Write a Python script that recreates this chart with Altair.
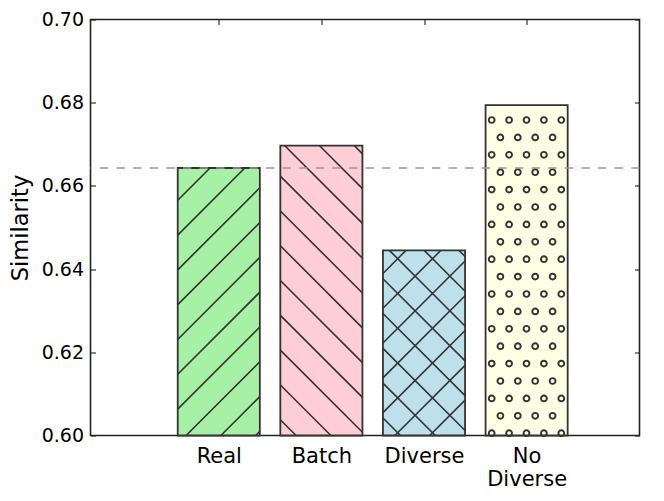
import math
import altair as alt
import pandas as pd

# ---------------- data ----------------
categories = ["Real", "Batch", "Diverse", "No Diverse"]
label_lines = [["Real"], ["Batch"], ["Diverse"], ["No", "Diverse"]]
values = [0.6643, 0.6697, 0.6445, 0.6794]
fill_colors = ["#a6f1a6", "#ffcdd5", "#bde0eb", "#ffffe6"]
hatch_kinds = ["/", "\\", "x", "o"]
reference_value = values[0]
y_tick_values = [0.60, 0.62, 0.64, 0.66, 0.68, 0.70]
baseline = 0.60

# ---------------- layout / style ----------------
W, H = 549, 416
X_DOMAIN = [-1.25, 4.1]
Y_DOMAIN = [0.60, 0.70]
BAR_HALF = 0.4
EDGE = "#333333"
FONT = "DejaVu Sans"
HATCH_STEP = 34.8          # px between hatch lines
PHASE_FWD = 24.4           # phase of "/" lines (x+y=c), px
PHASE_BWD = -1.6           # phase of "\" lines (x-y=c), px
DOT_STEP = HATCH_STEP / 2  # px between circle centres
DOT_ROW0 = 100.5
DOT_COL0 = 401.2
DOT_COL1 = 409.9


def px_x(x):
    return (x - X_DOMAIN[0]) / (X_DOMAIN[1] - X_DOMAIN[0]) * W


def px_y(v):
    return (Y_DOMAIN[1] - v) / (Y_DOMAIN[1] - Y_DOMAIN[0]) * H


def dx(p):
    return X_DOMAIN[0] + p / W * (X_DOMAIN[1] - X_DOMAIN[0])


def dy(p):
    return Y_DOMAIN[1] - p / H * (Y_DOMAIN[1] - Y_DOMAIN[0])


bars = pd.DataFrame({
    "category": categories,
    "pos": list(range(len(categories))),
    "lo": [i - BAR_HALF for i in range(len(categories))],
    "hi": [i + BAR_HALF for i in range(len(categories))],
    "value": values,
    "base": [baseline] * len(categories),
    "fill": fill_colors,
})

segs = []
dots = []
for i, (v, kind) in enumerate(zip(values, hatch_kinds)):
    x0, x1 = px_x(i - BAR_HALF), px_x(i + BAR_HALF)
    yt, yb = px_y(v), px_y(baseline)
    fams = []
    if kind in ("/", "x"):
        fams.append("fwd")
    if kind in ("\\", "x"):
        fams.append("bwd")
    for fam in fams:
        if fam == "fwd":
            cmin, cmax, ph = x0 + yt, x1 + yb, PHASE_FWD
        else:
            cmin, cmax, ph = x0 - yb, x1 - yt, PHASE_BWD
        k = math.floor((cmin - ph) / HATCH_STEP)
        while ph + k * HATCH_STEP <= cmax:
            c = ph + k * HATCH_STEP
            k += 1
            if fam == "fwd":
                lo, hi = max(x0, c - yb), min(x1, c - yt)
                if hi - lo > 0.5:
                    segs.append({"x": dx(lo), "y": dy(c - lo), "x2": dx(hi), "y2": dy(c - hi)})
            else:
                lo, hi = max(x0, yt + c), min(x1, yb + c)
                if hi - lo > 0.5:
                    segs.append({"x": dx(lo), "y": dy(lo - c), "x2": dx(hi), "y2": dy(hi - c)})
    if kind == "o":
        r = math.floor((yt - DOT_ROW0) / DOT_STEP) - 1
        while DOT_ROW0 + r * DOT_STEP < yb:
            yy = DOT_ROW0 + r * DOT_STEP
            c0 = DOT_COL0 if r % 2 == 0 else DOT_COL1
            r += 1
            if yy <= yt + 1:
                continue
            q = math.floor((x0 - c0) / DOT_STEP) - 1
            while c0 + q * DOT_STEP < x1 - 1:
                xx = c0 + q * DOT_STEP
                q += 1
                if xx > x0 + 1:
                    dots.append({"x": dx(xx), "y": dy(yy)})

segs = pd.DataFrame(segs)
dots = pd.DataFrame(dots)

xs = alt.Scale(domain=X_DOMAIN, nice=False, zero=False)
ys = alt.Scale(domain=Y_DOMAIN, nice=False, zero=False)

label_expr = "[" + ",".join("[" + ",".join("'%s'" % t for t in ls) + "]" for ls in label_lines) + "][round(datum.value)]"

common_axis = dict(domain=False, grid=False, ticks=True, tickSize=5, tickWidth=1.1,
                   tickColor="#222222", offset=-5, labelFont=FONT,
                   labelColor="black", titleFont=FONT, titleColor="black")

bottom_axis = alt.Axis(orient="bottom", values=list(range(len(categories))),
                       labelExpr=label_expr, labelPadding=10, labelLineHeight=23,
                       labelFontSize=21, labelBaseline="top", title=None, **common_axis)
left_axis = alt.Axis(orient="left", values=y_tick_values, format=".2f",
                     labelPadding=7, labelFontSize=19, title="Similarity", titleFontSize=22.5,
                     titleFontWeight="normal", titleBaseline="alphabetic",
                     titleX=-68.5, titleAnchor="middle", **common_axis)
top_axis = alt.Axis(orient="top", values=list(range(len(categories))), labels=False,
                    title=None, **common_axis)
right_axis = alt.Axis(orient="right", values=y_tick_values, labels=False,
                      title=None, **common_axis)

base = alt.Chart(bars)

fill_layer = base.mark_rect(strokeWidth=0).encode(
    x=alt.X("lo:Q", scale=xs, axis=bottom_axis),
    x2="hi:Q",
    y=alt.Y("value:Q", scale=ys, axis=left_axis),
    y2="base:Q",
    fill=alt.Fill("fill:N", scale=None),
)

hatch_layer = alt.Chart(segs).mark_rule(color=EDGE, strokeWidth=1.6).encode(
    x=alt.X("x:Q", scale=xs, axis=None),
    x2="x2:Q",
    y=alt.Y("y:Q", scale=ys, axis=None),
    y2="y2:Q",
)

dot_layer = alt.Chart(dots).mark_point(shape="circle", filled=False, size=34,
                                       strokeWidth=1.9, color=EDGE, opacity=1).encode(
    x=alt.X("x:Q", scale=xs, axis=None),
    y=alt.Y("y:Q", scale=ys, axis=None),
)

outline_layer = base.mark_rect(fillOpacity=0, stroke=EDGE, strokeWidth=1.8).encode(
    x=alt.X("lo:Q", scale=xs, axis=None),
    x2="hi:Q",
    y=alt.Y("value:Q", scale=ys, axis=None),
    y2="base:Q",
)

ref_layer = alt.Chart(pd.DataFrame({"v": [reference_value]})).mark_rule(
    color="#999999", strokeWidth=1.4, strokeDash=[8.3, 8.3]
).encode(y=alt.Y("v:Q", scale=ys, axis=None))

frame_layer = base.mark_point(opacity=0).encode(
    x=alt.X("pos:Q", scale=xs, axis=top_axis),
    y=alt.Y("value:Q", scale=ys, axis=right_axis),
)

chart = alt.layer(
    fill_layer, hatch_layer, dot_layer, outline_layer, ref_layer, frame_layer
).resolve_scale(x="independent", y="independent").properties(
    width=W, height=H,
    autosize=alt.AutoSizeParams(type="none"),
    padding={"left": 82.5, "top": 11.5, "right": 16, "bottom": 57},
).configure(background="white").configure_view(stroke="#222222", strokeWidth=1.6)

chart.save("out.html", embed_options={"renderer": "svg", "actions": False})
